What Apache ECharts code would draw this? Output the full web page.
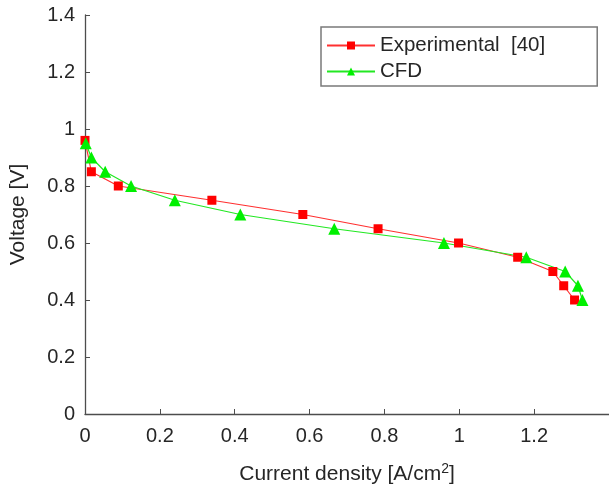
<!DOCTYPE html>
<html>
<head>
<meta charset="utf-8">
<script src="https://cdn.jsdelivr.net/npm/echarts@6/dist/echarts.min.js"></script>
<style>
  html, body { margin: 0; padding: 0; background: #fff; }
  #chart { width: 609px; height: 494px; }
</style>
</head>
<body>
<div id="chart"></div>
<script>
// values
const expCurrent = [0.0, 0.017, 0.089, 0.339, 0.582, 0.783, 0.998, 1.156, 1.25, 1.279, 1.308];
const expVoltage = [0.96, 0.85, 0.80, 0.75, 0.70, 0.65, 0.60, 0.55, 0.50, 0.45, 0.40];
const cfdCurrent = [0.002, 0.017, 0.054, 0.123, 0.24, 0.415, 0.666, 0.959, 1.179, 1.283, 1.317, 1.329];
const cfdVoltage = [0.95, 0.90, 0.85, 0.80, 0.75, 0.70, 0.65, 0.60, 0.55, 0.50, 0.45, 0.40];
const seriesNames = ["Experimental  [40]", "CFD"];

const pairs = (xs, ys) => xs.map((x, i) => [x, ys[i]]);

const axisColor = "#4d4d4d";
const textColor = "#262626";
const font = "Liberation Sans";

let chart = echarts.init(document.getElementById("chart"));
chart.setOption({
  animation: false,
  grid: {
    left: 80,
    right: -4,
    top: 15,
    bottom: 80
  },
  legend: {
    orient: "vertical",
    left: 321,
    top: 27,
    padding: [8, 52, 4, 5],
    itemWidth: 48,
    itemHeight: 10,
    itemGap: 5,
    borderColor: "#7a7a7a",
    borderWidth: 1.5,
    backgroundColor: "#fff",
    textStyle: {
      fontFamily: font,
      fontSize: 20.5,
      lineHeight: 20,
      color: textColor
    },
    data: seriesNames
  },
  xAxis: {
    type: "value",
    min: 0,
    max: 1.4,
    interval: 0.2,
    name: "Current density [A/cm{sup|2}]",
    nameLocation: "middle",
    nameGap: 48,
    nameTextStyle: {
      fontFamily: font,
      fontSize: 21,
      color: textColor,
      rich: {
        sup: { fontFamily: font, fontSize: 14, color: textColor, verticalAlign: "top", padding: [0, 0, 10, 0] }
      }
    },
    axisLine: { lineStyle: { color: axisColor, width: 1.3 } },
    axisTick: { inside: true, length: 5, lineStyle: { color: axisColor } },
    splitLine: { show: false },
    axisLabel: {
      showMaxLabel: false,
      margin: 12,
      fontFamily: font,
      fontSize: 20,
      color: textColor
    }
  },
  yAxis: {
    type: "value",
    min: 0,
    max: 1.4,
    interval: 0.2,
    name: "Voltage [V]",
    nameLocation: "middle",
    nameGap: 56,
    nameTextStyle: {
      fontFamily: font,
      fontSize: 21,
      color: textColor
    },
    axisLine: { show: true, lineStyle: { color: axisColor, width: 1.3 } },
    axisTick: { show: true, inside: true, length: 5, lineStyle: { color: axisColor } },
    splitLine: { show: false },
    axisLabel: {
      margin: 10,
      fontFamily: font,
      fontSize: 20,
      color: textColor
    }
  },
  series: [
    {
      name: seriesNames[0],
      type: "line",
      symbol: "rect",
      symbolSize: 9,
      color: "#ff0000",
      itemStyle: { color: "#ff0000" },
      lineStyle: { color: "#ff3030", width: 1.2 },
      data: pairs(expCurrent, expVoltage)
    },
    {
      name: seriesNames[1],
      type: "line",
      symbol: "triangle",
      symbolSize: 12,
      color: "#00f000",
      itemStyle: { color: "#00f000" },
      lineStyle: { color: "#22e822", width: 1.2 },
      data: pairs(cfdCurrent, cfdVoltage)
    }
  ]
});
</script>
</body>
</html>
